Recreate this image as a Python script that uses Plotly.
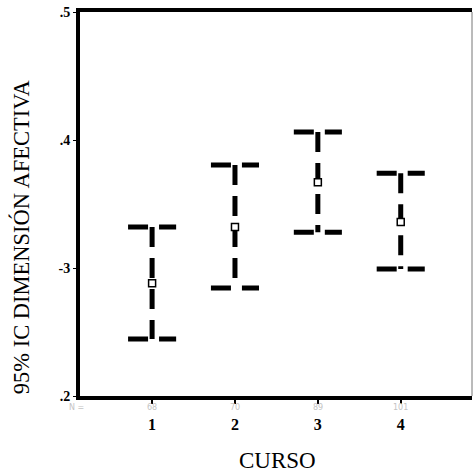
import plotly.graph_objects as go

cursos = [1, 2, 3, 4]
curso_labels = ["1", "2", "3", "4"]
n_labels = ["68", "70", "89", "101"]
means = [0.288, 0.332, 0.367, 0.336]
ci_low = [0.2445, 0.2844, 0.328, 0.2992]
ci_high = [0.332, 0.3805, 0.4063, 0.374]
y_tickvals = [0.2, 0.3, 0.4, 0.5]
y_ticktext = [".2", "-3", ".4", ".5"]

CAP = 0.29
LW = 5
DASH = "20px,11px"
SERIF = "Liberation Serif, Times New Roman, serif"

fig = go.Figure()
for c, m, lo, hi in zip(cursos, means, ci_low, ci_high):
    fig.add_trace(go.Scatter(x=[c, c], y=[hi, lo], mode="lines",
                             line=dict(color="black", width=LW, dash=DASH),
                             hoverinfo="skip", showlegend=False))
    for v in (hi, lo):
        fig.add_trace(go.Scatter(x=[c - CAP, c + CAP], y=[v, v], mode="lines",
                                 line=dict(color="black", width=LW, dash=DASH),
                                 hoverinfo="skip", showlegend=False))

fig.add_trace(go.Scatter(x=cursos, y=means, mode="markers",
                         marker=dict(symbol="square", size=7, color="white",
                                     line=dict(color="black", width=1.5)),
                         showlegend=False))

fig.update_layout(
    width=473, height=475,
    margin=dict(l=80, r=1, t=12, b=79),
    paper_bgcolor="white", plot_bgcolor="white",
    font=dict(family=SERIF, color="black"),
    xaxis=dict(range=[0.13, 4.86], tickvals=cursos, ticktext=curso_labels,
               tickfont=dict(family=SERIF, size=16, color="black", weight="bold"),
               ticks="outside", ticklen=4, tickwidth=2, tickcolor="black",
               ticklabelstandoff=7,
               showline=True, linewidth=4, linecolor="black", mirror=True,
               showgrid=False, zeroline=False, fixedrange=True),
    yaxis=dict(range=[0.2, 0.5], tickvals=y_tickvals, ticktext=y_ticktext,
               tickfont=dict(family=SERIF, size=14, color="black", weight="bold"),
               ticks="outside", ticklen=3, tickwidth=1, tickcolor="black",
               showline=True, linewidth=4, linecolor="black",
               showgrid=False, zeroline=False, fixedrange=True),
)

fig.add_shape(type="line", xref="paper", yref="paper", x0=1, x1=1, y0=0, y1=1,
              line=dict(color="#777", width=1))

fig.add_annotation(x=-0.008, y=-0.031, xref="paper", yref="paper", text="N =",
                   xanchor="center", yanchor="middle",
                   showarrow=False, font=dict(family="DejaVu Sans", size=8, color="#c4c4c4"))
for c, n in zip(cursos, n_labels):
    fig.add_annotation(x=c, y=-0.031, xref="x", yref="paper", text=n,
                       xanchor="center", yanchor="middle",
                       showarrow=False, font=dict(family="DejaVu Sans", size=8, color="#c4c4c4"))

fig.add_annotation(x=-0.150, y=0.414, xref="paper", yref="paper",
                   text="95% IC DIMENSIÓN AFECTIVA", textangle=-90, showarrow=False,
                   xanchor="center", yanchor="middle",
                   font=dict(family=SERIF, size=22.5, color="black"))
fig.add_annotation(x=0.5026, y=-0.168, xref="paper", yref="paper", text="CURSO",
                   xanchor="center", yanchor="middle",
                   showarrow=False, font=dict(family=SERIF, size=23, color="black"))

fig.write_html("out.html", config={"displayModeBar": False},
               post_script="document.body.style.margin='0';document.body.style.overflow='hidden';")
